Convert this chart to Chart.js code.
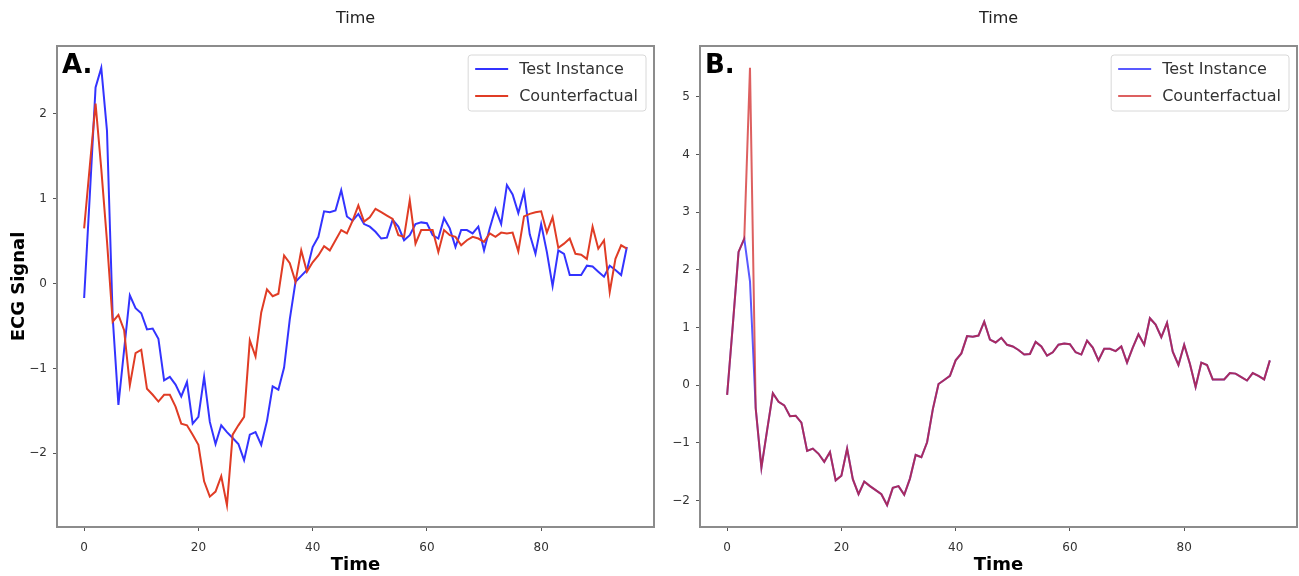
<!DOCTYPE html>
<html>
<head>
<meta charset="utf-8">
<script src="https://cdn.jsdelivr.net/npm/chart.js@4.4.1/dist/chart.umd.min.js"></script>
<style>
html,body{margin:0;padding:0;background:#fff;}
#wrap{position:relative;width:1299px;height:576px;overflow:hidden;}
#chA{position:absolute;left:0;top:0;}
#chB{position:absolute;left:660px;top:0;}
</style>
</head>
<body>
<div id="wrap">
  <canvas id="chA" width="660" height="576"></canvas>
  <canvas id="chB" width="639" height="576"></canvas>
</div>
<script>
// time index of each ECG sample
const timeSteps=Array.from({length:96},(_,i)=>i);

const testInstance=[
  -0.17, 1.05, 2.31, 2.54, 1.80,-0.40,-1.43,-0.78,-0.14,-0.29,
  -0.35,-0.54,-0.53,-0.65,-1.14,-1.10,-1.19,-1.33,-1.16,-1.65,
  -1.57,-1.10,-1.63,-1.89,-1.67,-1.75,-1.82,-1.89,-2.08,-1.78,
  -1.75,-1.90,-1.62,-1.21,-1.25,-0.99,-0.42, 0.02, 0.09, 0.16,
   0.43, 0.55, 0.85, 0.84, 0.86, 1.10, 0.79, 0.74, 0.82, 0.70,
   0.67, 0.61, 0.53, 0.54, 0.75, 0.67, 0.51, 0.57, 0.70, 0.72,
   0.71, 0.57, 0.53, 0.77, 0.65, 0.43, 0.63, 0.63, 0.59, 0.67,
   0.39, 0.65, 0.88, 0.70, 1.16, 1.05, 0.83, 1.08, 0.58, 0.35,
   0.70, 0.37,-0.03, 0.39, 0.35, 0.10, 0.10, 0.10, 0.21, 0.20,
   0.14, 0.08, 0.21, 0.16, 0.10, 0.43
];
const counterfactualA=[
   0.65, 1.39, 2.12, 1.35, 0.50,-0.45,-0.37,-0.55,-1.20,-0.82,
  -0.78,-1.24,-1.31,-1.39,-1.31,-1.31,-1.45,-1.65,-1.67,-1.78,
  -1.90,-2.33,-2.51,-2.45,-2.27,-2.61,-1.78,-1.67,-1.57,-0.67,
  -0.86,-0.34,-0.07,-0.15,-0.12, 0.33, 0.24, 0.02, 0.39, 0.14,
   0.25, 0.33, 0.44, 0.39, 0.51, 0.63, 0.59, 0.74, 0.92, 0.73,
   0.78, 0.88, 0.84, 0.80, 0.76, 0.57, 0.55, 0.98, 0.47, 0.63,
   0.63, 0.63, 0.37, 0.63, 0.57, 0.55, 0.45, 0.51, 0.55, 0.53,
   0.49, 0.59, 0.55, 0.60, 0.59, 0.60, 0.38, 0.79, 0.82, 0.84,
   0.85, 0.60, 0.78, 0.42, 0.47, 0.53, 0.35, 0.34, 0.29, 0.67,
   0.41, 0.51,-0.10, 0.29, 0.45, 0.41
];
const counterfactualB=[
  -0.17, 1.05, 2.31, 2.54, 5.50,-0.40,-1.43,-0.78,-0.14,-0.29,
  -0.35,-0.54,-0.53,-0.65,-1.14,-1.10,-1.19,-1.33,-1.16,-1.65,
  -1.57,-1.10,-1.63,-1.89,-1.67,-1.75,-1.82,-1.89,-2.08,-1.78,
  -1.75,-1.90,-1.62,-1.21,-1.25,-0.99,-0.42, 0.02, 0.09, 0.16,
   0.43, 0.55, 0.85, 0.84, 0.86, 1.10, 0.79, 0.74, 0.82, 0.70,
   0.67, 0.61, 0.53, 0.54, 0.75, 0.67, 0.51, 0.57, 0.70, 0.72,
   0.71, 0.57, 0.53, 0.77, 0.65, 0.43, 0.63, 0.63, 0.59, 0.67,
   0.39, 0.65, 0.88, 0.70, 1.16, 1.05, 0.83, 1.08, 0.58, 0.35,
   0.70, 0.37,-0.03, 0.39, 0.35, 0.10, 0.10, 0.10, 0.21, 0.20,
   0.14, 0.08, 0.21, 0.16, 0.10, 0.43
];

const xTickValues=[0,20,40,60,80];
const yTicksA=[-2,-1,0,1,2];
const yTicksB=[-2,-1,0,1,2,3,4,5];
const seriesNames=['Test Instance','Counterfactual'];

const FONT="'DejaVu Sans', sans-serif";
Chart.defaults.font.family=FONT;

function fmt(v){return v<0?'\u2212'+Math.abs(v):String(v);}
function pts(arr){return timeSteps.map((t,i)=>({x:t,y:arr[i]}));}

// frame, top title, panel letter and legend
const decor={
  id:'decor',
  afterDatasetsDraw(chart,args,o){
    const {ctx,chartArea:a}=chart;
    ctx.save();
    ctx.strokeStyle='#8c8c8c';ctx.lineWidth=2;
    ctx.strokeRect(a.left,a.top,a.right-a.left,a.bottom-a.top);
    ctx.fillStyle='#222';ctx.font='16px '+FONT;ctx.textAlign='center';ctx.textBaseline='middle';
    ctx.fillText(o.top,(a.left+a.right)/2,19);
    ctx.fillStyle='#000';ctx.font='bold 26px '+FONT;ctx.textAlign='left';ctx.textBaseline='alphabetic';
    ctx.fillText(o.letter,a.left+5,73);
    // legend
    ctx.font='16px '+FONT;
    const ds=chart.data.datasets;
    const tw=Math.max(...ds.map(d=>ctx.measureText(d.label).width));
    const w=7+33+11+tw+8,h=56,x0=a.right-8-w,y0=a.top+9;
    ctx.beginPath();ctx.roundRect(x0,y0,w,h,3);
    ctx.fillStyle='rgba(255,255,255,0.8)';ctx.fill();
    ctx.strokeStyle='#d8d8d8';ctx.lineWidth=1;ctx.stroke();
    ds.forEach((d,i)=>{
      const yy=y0+14+i*27;
      ctx.strokeStyle=d.borderColor;ctx.lineWidth=2;
      ctx.beginPath();ctx.moveTo(x0+7,yy);ctx.lineTo(x0+40,yy);ctx.stroke();
      ctx.fillStyle='#333';ctx.textBaseline='middle';
      ctx.fillText(d.label,x0+51,yy+1);
    });
    ctx.restore();
  }
};

function makeChart(id,cf,yTicks,opt){
  const all=testInstance.concat(cf);
  const lo=Math.min(...all),hi=Math.max(...all),m=(hi-lo)*0.05;
  return new Chart(document.getElementById(id),{
    type:'line',
    data:{datasets:[
      {label:seriesNames[0],data:pts(testInstance),borderColor:opt.blue,borderWidth:2,pointRadius:0,tension:0,order:1},
      {label:seriesNames[1],data:pts(cf),borderColor:opt.red,borderWidth:2,pointRadius:0,tension:0,order:0}
    ]},
    options:{
      responsive:false,animation:false,events:[],
      layout:{padding:{top:46,right:opt.padRight,bottom:0,left:0}},
      plugins:{legend:{display:false},tooltip:{enabled:false},decor:{top:'Time',letter:opt.letter}},
      scales:{
        x:{type:'linear',min:-4.75,max:99.75,
          afterBuildTicks:s=>{s.ticks=xTickValues.map(v=>({value:v}));},
          afterFit:s=>{s.height=49;},
          grid:{display:true,drawOnChartArea:false,drawTicks:true,tickLength:4,color:'#555'},
          border:{display:false},
          ticks:{color:'#333',font:{size:12},padding:10,maxRotation:0,callback:v=>fmt(v)},
          title:{display:true,text:'Time',color:'#000',font:{size:18,weight:'bold'},padding:{top:0,bottom:0}}
        },
        y:{type:'linear',min:lo-m,max:hi+m,
          afterBuildTicks:s=>{s.ticks=yTicks.map(v=>({value:v}));},
          afterFit:s=>{s.width=opt.yWidth;},
          grid:{display:true,drawOnChartArea:false,drawTicks:true,tickLength:4,color:'#555'},
          border:{display:false},
          ticks:{color:'#333',font:{size:12},padding:6,callback:v=>fmt(v)},
          title:{display:opt.yTitle,text:'ECG Signal',color:'#000',font:{size:18,weight:'bold'},padding:{top:9,bottom:0}}
        }
      }
    },
    plugins:[decor]
  });
}

makeChart('chA',counterfactualA,yTicksA,{letter:'A.',blue:'rgba(0,0,255,0.8)',red:'#e03c25',padRight:6,yWidth:57,yTitle:true});
makeChart('chB',counterfactualB,yTicksB,{letter:'B.',blue:'rgba(0,0,255,0.65)',red:'rgba(205,20,20,0.68)',padRight:2,yWidth:40,yTitle:false});
</script>
</body>
</html>
